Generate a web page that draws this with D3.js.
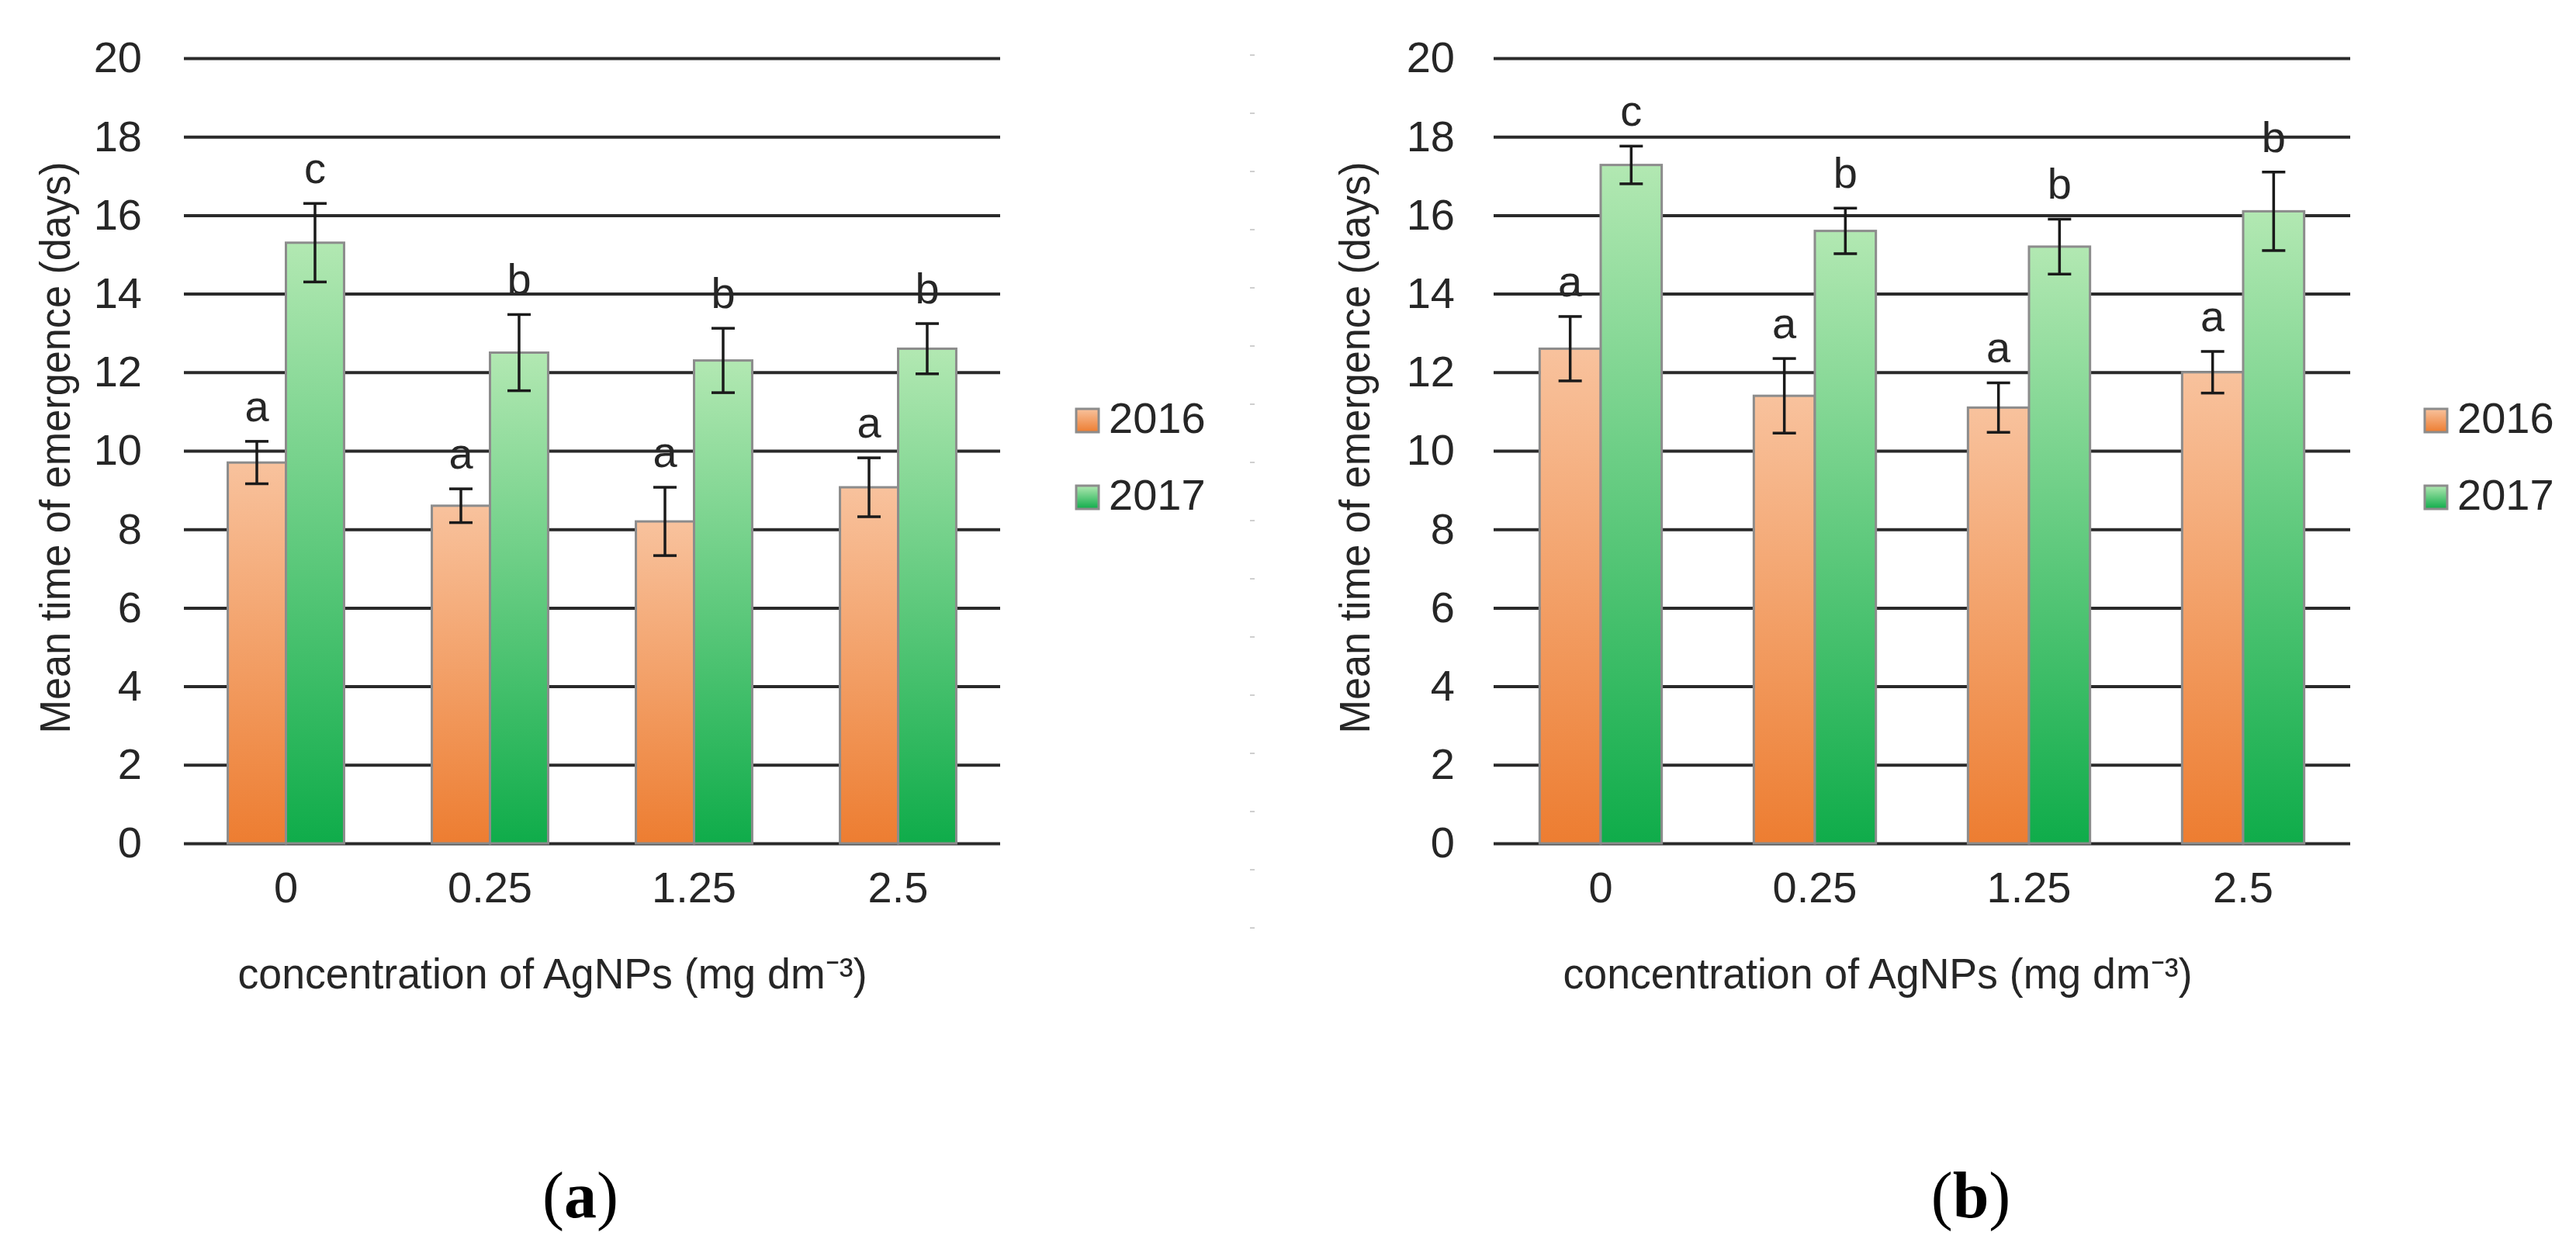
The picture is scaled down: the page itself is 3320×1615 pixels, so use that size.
<!DOCTYPE html>
<html>
<head>
<meta charset="utf-8">
<script src="https://cdn.jsdelivr.net/npm/d3@7"></script>
<style>
  body { margin: 0; background: #fff; }
  svg text { font-family: "Liberation Sans", Arial, sans-serif; fill: #262626; }
</style>
</head>
<body>
<div class="chart"></div>
<script>
// categories and series
var concentrations = ["0", "0.25", "1.25", "2.5"];
var years = ["2016", "2017"];
var yTicks = [0, 2, 4, 6, 8, 10, 12, 14, 16, 18, 20];

// panel (a)
var meanA2016 = [9.7, 8.6, 8.2, 9.07];
var errA2016 = [0.54, 0.43, 0.87, 0.75];
var lettersA2016 = ["a", "a", "a", "a"];
var meanA2017 = [15.3, 12.5, 12.3, 12.6];
var errA2017 = [1.0, 0.97, 0.82, 0.64];
var lettersA2017 = ["c", "b", "b", "b"];

// panel (b)
var meanB2016 = [12.6, 11.4, 11.1, 12.0];
var errB2016 = [0.82, 0.95, 0.63, 0.53];
var lettersB2016 = ["a", "a", "a", "a"];
var meanB2017 = [17.28, 15.6, 15.2, 16.1];
var errB2017 = [0.48, 0.58, 0.7, 1.0];
var lettersB2017 = ["c", "b", "b", "b"];

var W = 3320, H = 1615;

var svg = d3.select("div.chart")
            .append("svg")
            .attr("width", W)
            .attr("height", H);

var defs = svg.append("defs");

function gradient(id, top, bottom){
  var g = defs.append("linearGradient")
      .attr("id", id)
      .attr("x1", 0).attr("y1", 0)
      .attr("x2", 0).attr("y2", 1);
  g.append("stop").attr("offset", "0%").attr("stop-color", top);
  g.append("stop").attr("offset", "100%").attr("stop-color", bottom);
}
gradient("g2016", "#f8c29d", "#ed7d31");
gradient("g2017", "#b2e8b2", "#0fac4a");

var fills = {"2016": "url(#g2016)", "2017": "url(#g2017)"};

//faint dotted divider between the panels
svg.append("line")
    .attr("x1", 1614).attr("x2", 1614)
    .attr("y1", 70).attr("y2", 1260)
    .attr("stroke", "#cfcfcf")
    .attr("stroke-width", 6)
    .attr("stroke-dasharray", "2 73");

function panel(p){

  var y = d3.scaleLinear()
      .domain([0, 20])
      .range([1087, 75]);

  var x = d3.scaleBand()
      .domain(concentrations)
      .range([p.x0, p.x1])
      .paddingInner(0.43)
      .paddingOuter(0.215);

  var xs = d3.scaleBand()
      .domain(years)
      .range([0, x.bandwidth()]);

  var g = svg.append("g");

  //gridlines + y tick labels
  var yAxis = g.append("g")
      .attr("transform", "translate(" + p.x0 + ",0)")
      .call(d3.axisLeft(y)
        .tickValues(yTicks)
        .tickSize(-(p.x1 - p.x0))
        .tickPadding(p.x0 - p.tickRight));
  yAxis.select(".domain").remove();
  yAxis.selectAll("line")
      .attr("stroke", "#2a2a2a")
      .attr("stroke-width", 4);
  yAxis.selectAll("text")
      .attr("font-size", 56)
      .style("fill", "#262626");

  //x category labels
  var xAxis = g.append("g")
      .attr("transform", "translate(0,1087)")
      .call(d3.axisBottom(x).tickSize(0).tickPadding(36));
  xAxis.select(".domain").remove();
  xAxis.selectAll("text")
      .attr("font-size", 56)
      .attr("dy", "0.71em")
      .style("fill", "#262626");

  var rows = [];
  concentrations.forEach(function(c, i){
    rows.push({c: c, year: "2016", v: p.m16[i], e: p.e16[i], l: p.l16[i]});
    rows.push({c: c, year: "2017", v: p.m17[i], e: p.e17[i], l: p.l17[i]});
  });

  g.selectAll(".bar")
      .data(rows)
      .enter()
      .append("rect")
        .attr("class", "bar")
        .attr("x", function(d){ return x(d.c) + xs(d.year); })
        .attr("y", function(d){ return y(d.v); })
        .attr("width", xs.bandwidth())
        .attr("height", function(d){ return y(0) - y(d.v); })
        .attr("fill", function(d){ return fills[d.year]; })
        .attr("stroke", "#8c8c8c")
        .attr("stroke-width", 3);

  //error bars
  var cx = function(d){ return x(d.c) + xs(d.year) + xs.bandwidth() / 2; };
  var eb = g.selectAll(".err")
      .data(rows)
      .enter()
      .append("g")
        .attr("class", "err")
        .attr("stroke", "#1a1a1a")
        .attr("stroke-width", 3.5);
  eb.append("line")
      .attr("x1", cx).attr("x2", cx)
      .attr("y1", function(d){ return y(d.v + d.e); })
      .attr("y2", function(d){ return y(d.v - d.e); });
  eb.append("line")
      .attr("x1", function(d){ return cx(d) - 15; })
      .attr("x2", function(d){ return cx(d) + 15; })
      .attr("y1", function(d){ return y(d.v + d.e); })
      .attr("y2", function(d){ return y(d.v + d.e); });
  eb.append("line")
      .attr("x1", function(d){ return cx(d) - 15; })
      .attr("x2", function(d){ return cx(d) + 15; })
      .attr("y1", function(d){ return y(d.v - d.e); })
      .attr("y2", function(d){ return y(d.v - d.e); });

  //significance letters
  g.selectAll(".letter")
      .data(rows)
      .enter()
      .append("text")
        .attr("class", "letter")
        .attr("x", cx)
        .attr("y", function(d){ return y(d.v + d.e) - 26; })
        .attr("text-anchor", "middle")
        .attr("font-size", 56)
        .text(function(d){ return d.l; });

  //axis titles
  g.append("text")
      .attr("transform", "translate(" + p.yTitleX + ",577) rotate(-90)")
      .attr("text-anchor", "middle")
      .attr("font-size", 56)
      .attr("textLength", 737)
      .attr("lengthAdjust", "spacingAndGlyphs")
      .text("Mean time of emergence (days)");

  g.append("text")
      .attr("x", p.xTitleX)
      .attr("y", 1274)
      .attr("text-anchor", "middle")
      .attr("font-size", 56)
      .attr("textLength", 811)
      .attr("lengthAdjust", "spacingAndGlyphs")
      .text("concentration of AgNPs (mg dm\u207B\u00B3)");

  //legend
  var lg = g.selectAll(".legend")
      .data(years)
      .enter()
      .append("g")
        .attr("class", "legend")
        .attr("transform", function(d, i){ return "translate(" + p.legendX + "," + (527 + i * 99) + ")"; });
  lg.append("rect")
      .attr("width", 29).attr("height", 30)
      .attr("fill", function(d){ return fills[d]; })
      .attr("stroke", "#8c8c8c")
      .attr("stroke-width", 3);
  lg.append("text")
      .attr("x", 42)
      .attr("y", 31)
      .attr("font-size", 56)
      .text(function(d){ return d; });

  //panel letter
  var pl = g.append("text")
      .attr("x", p.labelX)
      .attr("y", 1569)
      .attr("text-anchor", "middle")
      .attr("font-size", 84)
      .style("font-family", "'Liberation Serif', 'Times New Roman', serif")
      .style("fill", "#000");
  pl.append("tspan").text("(");
  pl.append("tspan").attr("font-weight", "bold").text(p.label);
  pl.append("tspan").text(")");
}

panel({x0: 237, x1: 1289, tickRight: 183, yTitleX: 90, xTitleX: 712, legendX: 1387, labelX: 748, label: "a",
       m16: meanA2016, e16: errA2016, l16: lettersA2016, m17: meanA2017, e17: errA2017, l17: lettersA2017});

panel({x0: 1925, x1: 3029, tickRight: 1875, yTitleX: 1765, xTitleX: 2420, legendX: 3125, labelX: 2540, label: "b",
       m16: meanB2016, e16: errB2016, l16: lettersB2016, m17: meanB2017, e17: errB2017, l17: lettersB2017});
</script>
</body>
</html>
